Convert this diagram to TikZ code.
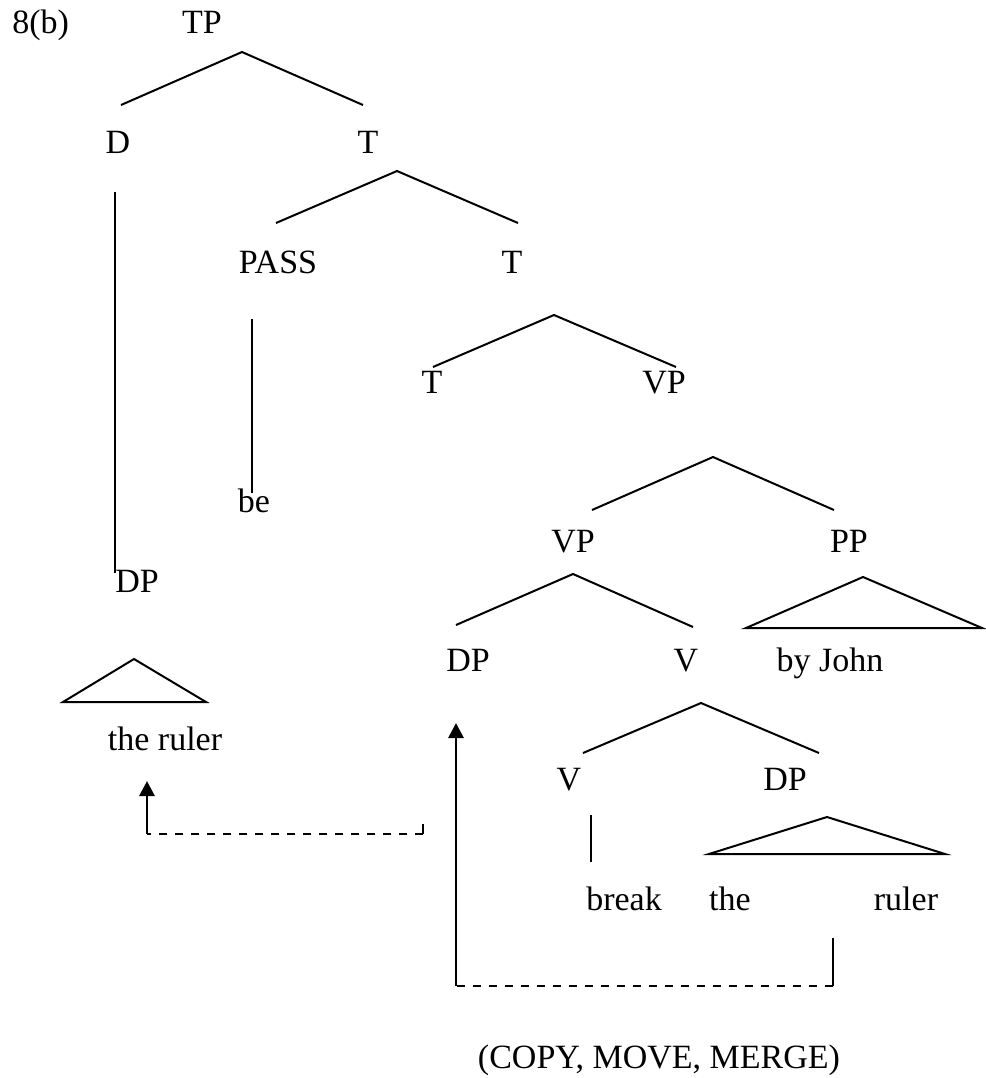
\documentclass[tikz,border=0pt]{standalone}
\usepackage{fontspec}
\setmainfont{Liberation Serif}
\usetikzlibrary{calc,arrows.meta}

\begin{document}
\begin{tikzpicture}[x=0.5pt,y=-0.5pt,
    lbl/.style={anchor=base,inner sep=0pt,font=\fontsize{17}{20}\selectfont},
    branch/.style={line width=1pt},
    stem/.style={line width=0.8pt},
    trace/.style={line width=1pt,dash pattern=on 4pt off 4pt},
    move/.style={line width=1.4pt,-{Triangle[length=7.5pt,width=7.5pt]}}]

    \useasboundingbox (0,0) rectangle (986,1078);

    % Labels of the tree
    \node[lbl,anchor=base west] (num) at (12,33) {8(b)};
    \node[lbl] (tp) at (202,33) {TP};
    \node[lbl] (d) at (118,153) {D};
    \node[lbl] (t1) at (368,153) {T};
    \node[lbl] (pass) at (278,273) {PASS};
    \node[lbl] (t2) at (512,273) {T};
    \node[lbl] (t3) at (432,393) {T};
    \node[lbl] (vp1) at (664,393) {VP};
    \node[lbl] (be) at (254,512) {be};
    \node[lbl] (vp2) at (573,552) {VP};
    \node[lbl] (pp) at (849,552) {PP};
    \node[lbl] (dp1) at (137,592) {DP};
    \node[lbl] (dp2) at (468,671) {DP};
    \node[lbl] (v2) at (686,671) {V};
    \node[lbl] (john) at (830,671) {by John};
    \node[lbl] (ruler1) at (165,750) {the ruler};
    \node[lbl] (v3) at (569,790) {V};
    \node[lbl] (dp3) at (785,790) {DP};
    \node[lbl] (break) at (624,910) {break};
    \node[lbl] (the2) at (730,910) {the};
    \node[lbl] (ruler2) at (906,910) {ruler};
    \node[lbl] (ops) at (659,1068) {(COPY, MOVE, MERGE)};

    % Branches
    \draw[branch] ($(d.base)+(3,-48)$) -- ($(tp.base)+(40,19)$) -- ($(t1.base)+(-5,-48)$);
    \draw[branch] ($(pass.base)+(-2,-50)$) -- ($(t1.base)+(29,18)$) -- ($(t2.base)+(6,-50)$);
    \draw[branch] ($(t3.base)+(1,-26)$) -- ($(t2.base)+(42,42)$) -- ($(vp1.base)+(12,-26)$);
    \draw[branch] ($(vp2.base)+(19,-42)$) -- ($(vp1.base)+(49,64)$) -- ($(pp.base)+(-15,-42)$);
    \draw[branch] ($(dp2.base)+(-12,-46)$) -- ($(vp2.base)+(0,22)$) -- ($(v2.base)+(7,-44)$);
    \draw[branch] ($(v3.base)+(14,-37)$) -- ($(v2.base)+(15,32)$) -- ($(dp3.base)+(34,-37)$);

    % Single daughters
    \draw[stem] ($(d.base)+(-3,39)$) -- ($(dp1.base)+(-22,-19)$);
    \draw[stem] ($(pass.base)+(-26,46)$) -- ($(be.base)+(-2,-19)$);
    \draw[branch] ($(v3.base)+(22,25)$) -- ($(v3.base)+(22,72)$);

    % Triangles
    \draw[branch] ($(dp1.base)+(-3,67)$) -- ($(dp1.base)+(-74,110)$) -- ($(dp1.base)+(69,110)$) -- cycle;
    \draw[branch] ($(pp.base)+(14,25)$) -- ($(pp.base)+(-103,76)$) -- ($(pp.base)+(133,76)$) -- cycle;
    \draw[branch] ($(dp3.base)+(42,27)$) -- ($(dp3.base)+(-76,64)$) -- ($(dp3.base)+(160,64)$) -- cycle;

    % Movement to the subject position
    \coordinate (src1) at (423,824);
    \coordinate (bend1) at ($(ruler1.base)+(-18,84)$);
    \draw[branch] (src1) -- (src1 |- bend1);
    \draw[trace] (src1 |- bend1) -- (bend1);
    \draw[move] (bend1) -- ($(ruler1.base)+(-18,31)$);

    % Movement of the object DP
    \coordinate (src2) at (833,938);
    \coordinate (bend2) at ($(dp2.base)+(-12,315)$);
    \draw[branch] (src2) -- (src2 |- bend2);
    \draw[trace] (src2 |- bend2) -- (bend2);
    \draw[move] (bend2) -- ($(dp2.base)+(-12,52)$);

\end{tikzpicture}
\end{document}
